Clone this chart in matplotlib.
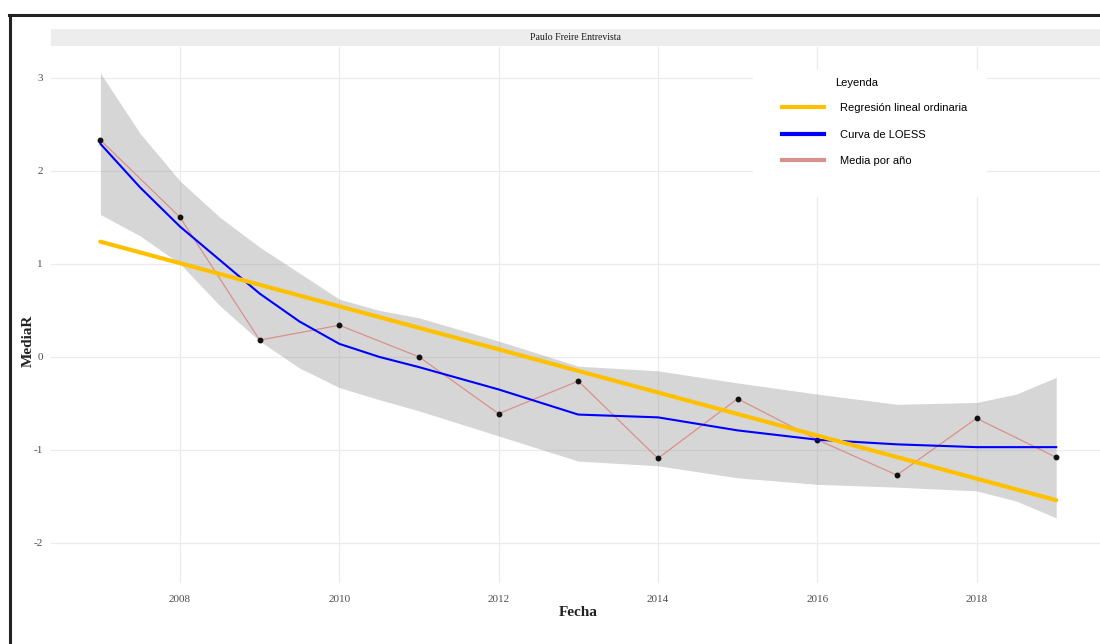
import numpy as np
import matplotlib
matplotlib.use("Agg")
import matplotlib.pyplot as plt
from matplotlib.lines import Line2D
from matplotlib.patches import Rectangle

# datos
anios = [2007, 2008, 2009, 2010, 2011, 2012, 2013, 2014, 2015, 2016, 2017, 2018, 2019]
media_r = [2.33, 1.50, 0.18, 0.34, 0.00, -0.61, -0.26, -1.09, -0.45, -0.89, -1.27, -0.66, -1.08]

# curva LOESS y banda de confianza (estimadas del grafico)
loess_x = [2007, 2007.5, 2008, 2008.5, 2009, 2009.5, 2010, 2010.5, 2011, 2012,
           2013, 2014, 2015, 2016, 2017, 2018, 2018.5, 2019]
loess = [2.29, 1.82, 1.40, 1.04, 0.68, 0.38, 0.14, 0.00, -0.11, -0.35,
         -0.62, -0.65, -0.79, -0.89, -0.94, -0.97, -0.97, -0.97]
banda_sup = [3.05, 2.40, 1.89, 1.50, 1.18, 0.90, 0.62, 0.50, 0.42, 0.17,
             -0.10, -0.15, -0.28, -0.40, -0.51, -0.49, -0.40, -0.22]
banda_inf = [1.53, 1.30, 1.00, 0.55, 0.17, -0.12, -0.33, -0.46, -0.58, -0.85,
             -1.12, -1.17, -1.30, -1.37, -1.40, -1.44, -1.55, -1.73]

x_ticks = [2008, 2010, 2012, 2014, 2016, 2018]
y_ticks = [-2, -1, 0, 1, 2, 3]

etiquetas = ["Regresión lineal ordinaria", "Curva de LOESS", "Media por año"]
colores = ["#FFC000", "#0000FF", "#D9918B"]

plt.rcParams["axes.unicode_minus"] = False
plt.rcParams["font.family"] = ["Liberation Serif", "DejaVu Serif"]

W, H = 1100, 644
fig = plt.figure(figsize=(W / 100, H / 100), dpi=100)


def fx(px):
    return px / W


def fy(py):
    return 1 - py / H


ax = fig.add_axes([fx(51), fy(583), fx(1100) - fx(51), fy(47) - fy(583)])
ax.set_axisbelow(True)
ax.grid(True, color="#EBEBEB", linewidth=0.9)
for s in ax.spines.values():
    s.set_visible(False)

x = np.array(anios, dtype=float)
y = np.array(media_r)

# banda, media por anio, puntos, loess, regresion
ax.fill_between(loess_x, banda_inf, banda_sup, color="#999999", alpha=0.4,
                linewidth=0, zorder=2)
ax.plot(x, y, color=colores[2], linewidth=0.9, zorder=3)
ax.plot(x, y, "o", color="#111111", markersize=3.2, zorder=4)
ax.plot(loess_x, loess, color=colores[1], linewidth=1.5, zorder=5)
coef = np.polyfit(x, y, 1)
ax.plot(x, np.polyval(coef, x), color=colores[0], linewidth=3.0,
        solid_capstyle="round", zorder=6)

ax.set_xlim(2006.38, 2019.55)
ax.set_ylim(-2.43, 3.33)
ax.set_xticks(x_ticks)
ax.set_yticks(y_ticks)
ax.set_xticklabels([str(t) for t in x_ticks])
ax.set_yticklabels([str(t) for t in y_ticks])
ax.tick_params(axis="x", length=0, labelsize=8, colors="#4D4D4D", pad=9)
ax.tick_params(axis="y", length=0, labelsize=8, colors="#4D4D4D", pad=6)
ax.set_xlabel("Fecha", fontsize=11, fontweight="bold", color="#222222", va="center")
ax.set_ylabel("MediaR", fontsize=11, fontweight="bold", color="#222222", va="center")
ax.xaxis.set_label_coords((578 - 51) / 1049, -(612 - 583) / 536)
ax.yaxis.set_label_coords((28 - 51) / 1049, 1 - (341 - 47) / 536)

# fondo blanco de la leyenda
ax.add_patch(Rectangle((fx(753), fy(197)), fx(987) - fx(753), fy(70) - fy(197),
                       transform=fig.transFigure, facecolor="white",
                       edgecolor="none", zorder=1))
handles = [Line2D([], [], color=c, linewidth=3) for c in colores]
leg = fig.legend(handles, etiquetas, loc="upper left",
                 bbox_to_anchor=(fx(772), fy(93)), frameon=False,
                 prop={"family": "Liberation Sans", "size": 8},
                 handlelength=3.8, handletextpad=1.4, labelspacing=1.5)
fig.text(fx(835), fy(83), "Leyenda", family="Liberation Sans", fontsize=8,
         va="center", ha="left")

# franja del panel
fig.patches.append(Rectangle((fx(51), fy(46)), 1 - fx(51), fy(29) - fy(46),
                             transform=fig.transFigure, facecolor="#EDEDED",
                             edgecolor="none"))
fig.text((fx(51) + 1) / 2, fy(37.5), "Paulo Freire Entrevista", fontsize=7,
         color="#1A1A1A", ha="center", va="center")

# marco de la captura
fig.lines.append(Line2D([fx(9), 1], [fy(15), fy(15)], transform=fig.transFigure,
                        color="#222222", linewidth=2.2))
fig.lines.append(Line2D([fx(10), fx(10)], [fy(15), 0], transform=fig.transFigure,
                        color="#222222", linewidth=2.2))

fig.savefig("out.png", dpi=100)
